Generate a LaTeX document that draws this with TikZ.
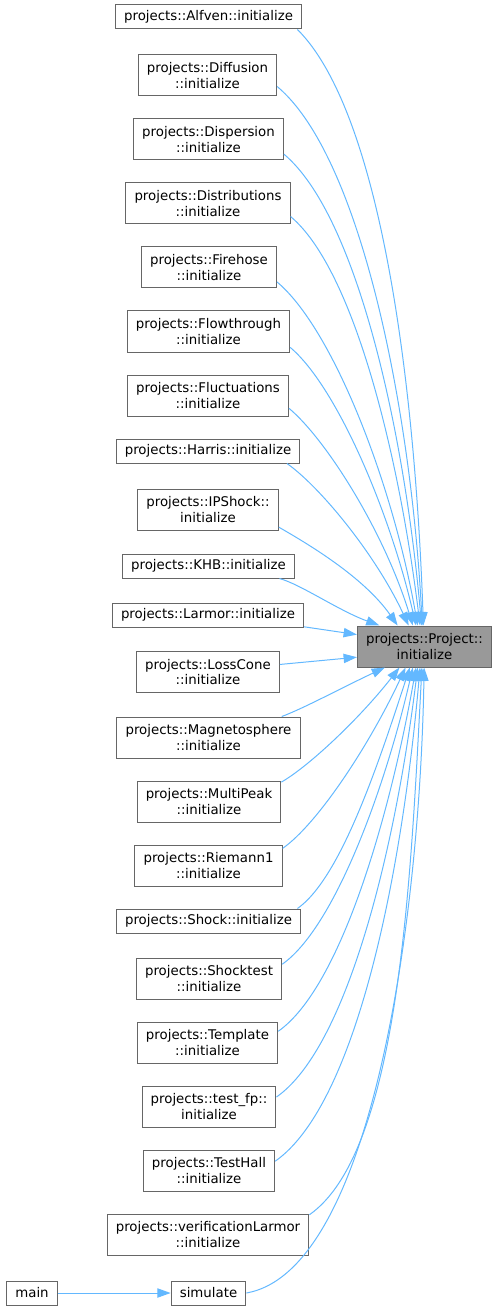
\documentclass[tikz,border=0pt]{standalone}
\usepackage{fontspec}
\setmainfont{DejaVu Sans}
\usetikzlibrary{arrows.meta}
\definecolor{edgeblue}{HTML}{63B8FF}
\definecolor{boxgray}{HTML}{666666}
\definecolor{curgray}{HTML}{999999}
\tikzset{funcnode/.style={draw=boxgray, fill=white, line width=0.75pt, align=center,
        font=\fontsize{10pt}{11.5pt}\selectfont, inner xsep=6.5pt, inner ysep=2pt,
        minimum height=18pt},
    funcnodetwo/.style={funcnode, minimum height=30.75pt},
    curnode/.style={funcnodetwo, fill=curgray},
    callarrow/.style={draw=edgeblue, line width=0.75pt,
        -{Triangle[length=10pt,width=7pt]},
        out looseness=0.5, in looseness=1},
    }
\begin{document}
\begin{tikzpicture}[x=0.75pt, y=0.75pt]
\useasboundingbox (0,0) rectangle (497,-1312);
% callers
\node[funcnode] (alfven) at (208.5,-17) {projects::Alfven::initialize};
\node[funcnodetwo] (diffusion) at (207.5,-75.5) {projects::Diffusion\\::initialize};
\node[funcnodetwo] (dispersion) at (208.5,-139.5) {projects::Dispersion\\::initialize};
\node[funcnodetwo] (distributions) at (208,-203.5) {projects::Distributions\\::initialize};
\node[funcnodetwo] (firehose) at (209,-267.5) {projects::Firehose\\::initialize};
\node[funcnodetwo] (flowthrough) at (208.5,-331.5) {projects::Flowthrough\\::initialize};
\node[funcnodetwo] (fluctuations) at (208,-395.5) {projects::Fluctuations\\::initialize};
\node[funcnode] (harris) at (208,-451) {projects::Harris::initialize};
\node[funcnodetwo] (ipshock) at (208,-509.5) {projects::IPShock::\\initialize};
\node[funcnode] (khb) at (208.5,-566) {projects::KHB::initialize};
\node[funcnode] (larmor) at (208,-615) {projects::Larmor::initialize};
\node[funcnodetwo] (losscone) at (208,-672) {projects::LossCone\\::initialize};
\node[funcnodetwo] (magnetosphere) at (208.5,-737.5) {projects::Magnetosphere\\::initialize};
\node[funcnodetwo] (multipeak) at (209,-801.5) {projects::MultiPeak\\::initialize};
\node[funcnodetwo] (riemann) at (208.5,-865.5) {projects::Riemann1\\::initialize};
\node[funcnode] (shock) at (208.5,-921) {projects::Shock::initialize};
\node[funcnodetwo] (shocktest) at (209,-978.5) {projects::Shocktest\\::initialize};
\node[funcnodetwo] (template) at (207.5,-1042.5) {projects::Template\\::initialize};
\node[funcnodetwo] (testfp) at (209,-1106.5) {projects::test\_fp::\\initialize};
\node[funcnodetwo] (testhall) at (209,-1170.5) {projects::TestHall\\::initialize};
\node[funcnodetwo] (verlarmor) at (208,-1234.5) {projects::verificationLarmor\\::initialize};
\node[funcnode] (main) at (32,-1293) {main};
\node[funcnode] (simulate) at (208.5,-1293) {simulate};
% the called function
\node[curnode] (projinit) at (424.5,-646.5) {projects::Project::\\initialize};

\draw[callarrow] (alfven.-8) to[out=-45, in=92] (projinit.93);
\draw[callarrow] (diffusion.-9) to[out=-40, in=93] (projinit.96);
\draw[callarrow] (dispersion.-11) to[out=-40, in=95] (projinit.98);
\draw[callarrow] (distributions.-9) to[out=-40, in=97] (projinit.102);
\draw[callarrow] (firehose.-12) to[out=-40, in=100] (projinit.108);
\draw[callarrow] (flowthrough.-11) to[out=-40, in=103] (projinit.112);
\draw[callarrow] (fluctuations.-9) to[out=-40, in=107] (projinit.119);
\draw[callarrow] (harris.-9) to[out=-35, in=115] (projinit.127);
\draw[callarrow] (ipshock.-14) to[out=-30, in=125] (projinit.142);
\draw[callarrow] (khb.-10) to[out=-15, in=160] (projinit.155);
\draw[callarrow] (larmor.-7) -- (projinit.170);
\draw[callarrow] (losscone.6) -- (projinit.-171);
\draw[callarrow] (magnetosphere.16) to[out=20, in=-155] (projinit.-152);
\draw[callarrow] (multipeak.15) to[out=30, in=-128] (projinit.-140);
\draw[callarrow] (riemann.13) to[out=35, in=-115] (projinit.-132);
\draw[callarrow] (shock.8) to[out=35, in=-108] (projinit.-125);
\draw[callarrow] (shocktest.11) to[out=35, in=-103] (projinit.-119);
\draw[callarrow] (template.9) to[out=35, in=-100] (projinit.-112);
\draw[callarrow] (testfp.8) to[out=35, in=-97] (projinit.-108);
\draw[callarrow] (testhall.8) to[out=35, in=-95] (projinit.-102);
\draw[callarrow] (verlarmor.11) to[out=35, in=-93] (projinit.-97);
\draw[callarrow] (simulate.east) to[out=10, in=-91] (projinit.-91);
\draw[callarrow] (main) -- (simulate);
\end{tikzpicture}
\end{document}
